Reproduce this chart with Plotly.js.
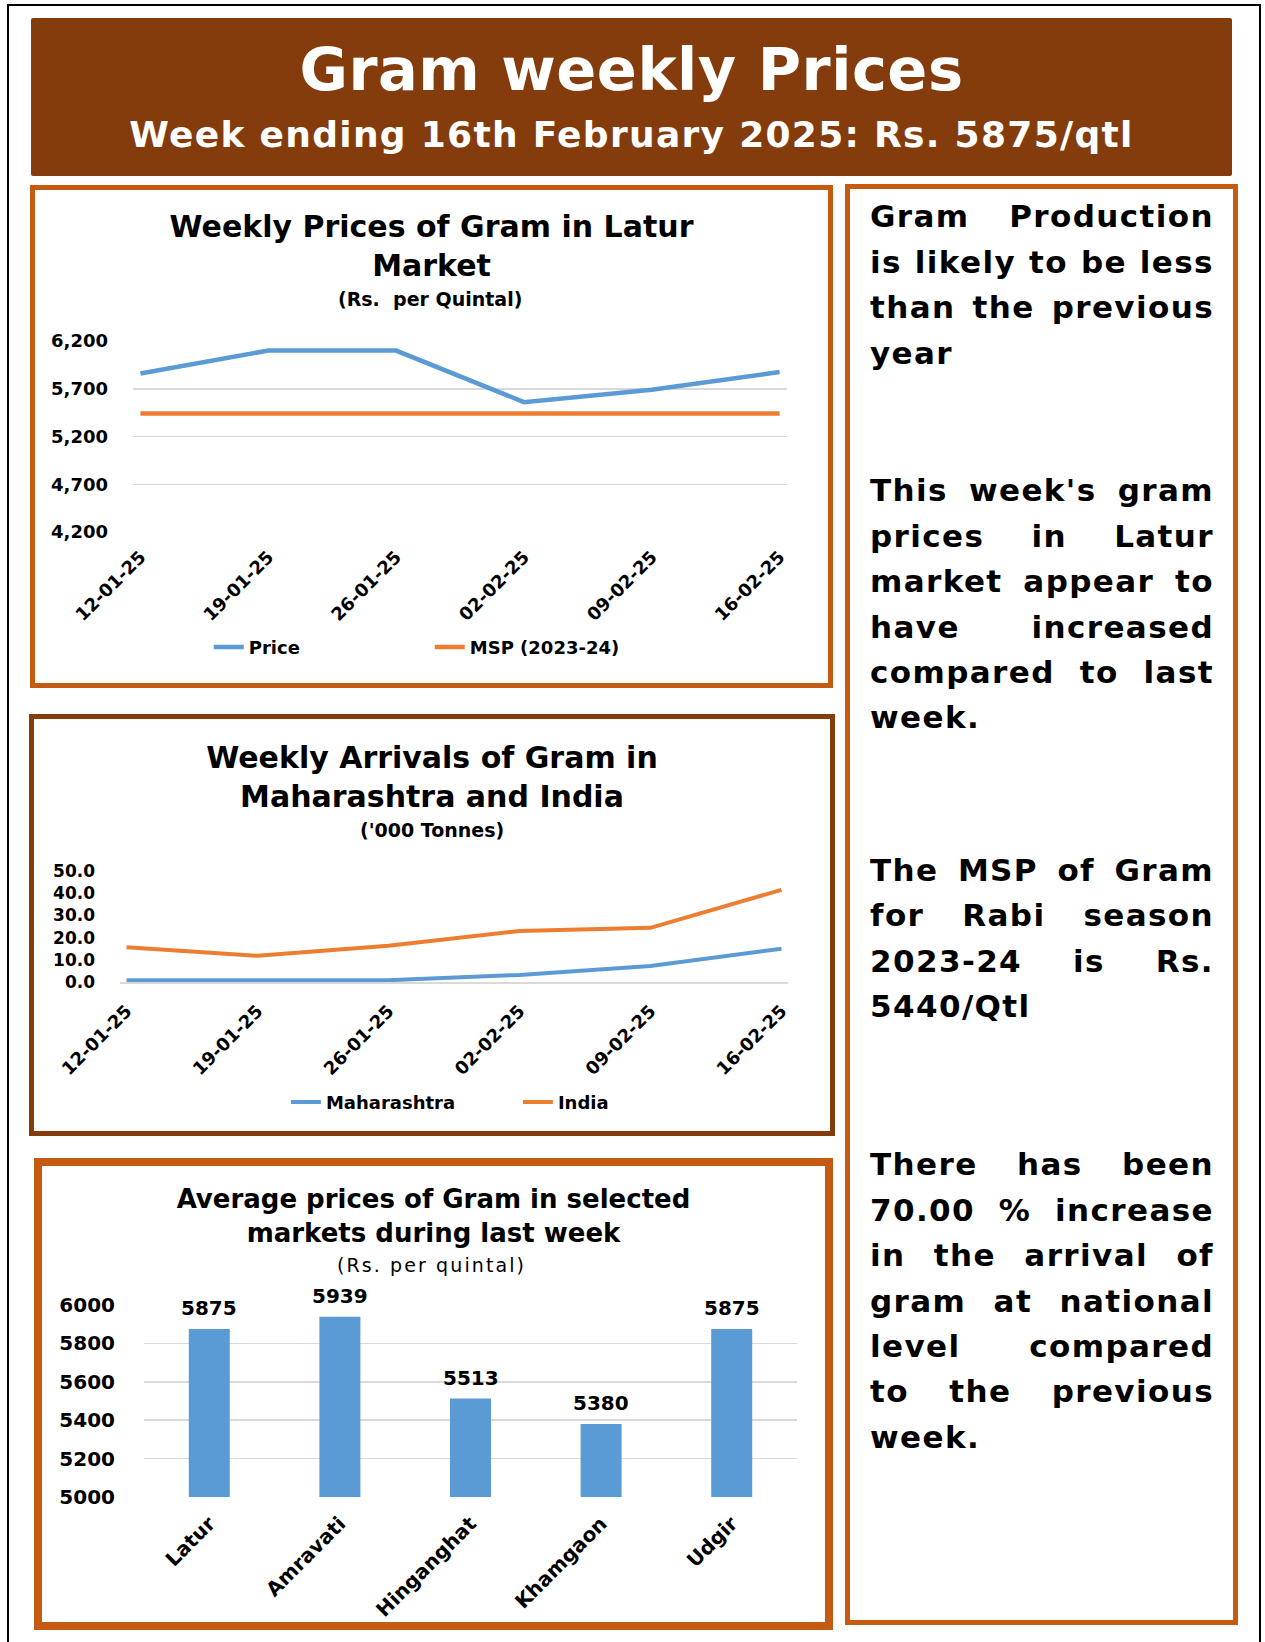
<!DOCTYPE html>
<html>
<head>
<meta charset="utf-8">
<script src="https://cdn.plot.ly/plotly-3.0.1.min.js"></script>
<style>
html,body{margin:0;padding:0;background:#ffffff;}
body{width:1265px;height:1642px;position:relative;overflow:hidden;font-family:"DejaVu Sans",sans-serif;}
.abs{position:absolute;box-sizing:border-box;}
.htxt{color:#ffffff;font-weight:bold;text-align:center;white-space:nowrap;}
.para{position:absolute;left:870px;width:344px;font-size:31px;line-height:45.4px;font-weight:bold;letter-spacing:1.4px;color:#000;}
.ln{display:flex;justify-content:space-between;white-space:nowrap;}
.ln.last{justify-content:flex-start;}
</style>
</head>
<body>
<div class="abs" style="left:7px;top:4px;width:1254px;height:1660px;border:2px solid #000;"></div>
<div class="abs" style="left:31px;top:18px;width:1201px;height:158px;background:#843C0C;border-radius:2px;"></div>
<div class="abs htxt" id="hTitle" style="left:31px;width:1201px;top:30px;height:80px;line-height:80px;font-size:59px;letter-spacing:0.5px;"></div>
<div class="abs htxt" id="hSub" style="left:31px;width:1201px;top:110px;height:50px;line-height:50px;font-size:36px;letter-spacing:1.3px;"></div>

<div class="abs" style="left:30px;top:185px;width:803px;height:503px;border:5px solid #C55A11;"></div>
<div class="abs" style="left:29px;top:714px;width:806px;height:422px;border:5px solid #843C0C;"></div>
<div class="abs" style="left:34px;top:1158px;width:799px;height:472px;border:8px solid #C55A11;"></div>
<div class="abs" style="left:845px;top:184px;width:393px;height:1441px;border:5px solid #C55A11;"></div>

<div class="abs" id="chart1" style="left:30px;top:185px;width:803px;height:503px;"></div>
<div class="abs" id="chart2" style="left:29px;top:714px;width:806px;height:422px;"></div>
<div class="abs" id="chart3" style="left:34px;top:1158px;width:799px;height:472px;"></div>

<div id="side"></div>

<script>
// ---------------- data ----------------
const headerTitle = "Gram weekly Prices";
const headerSubtitle = "Week ending 16th February 2025: Rs. 5875/qtl";

const weeks = ["12-01-25", "19-01-25", "26-01-25", "02-02-25", "09-02-25", "16-02-25"];
const laturPrice = [5860, 6100, 6100, 5560, 5690, 5875];
const mspPrice = [5440, 5440, 5440, 5440, 5440, 5440];

const maharashtraArrivals = [0.8, 0.8, 0.8, 3.2, 7.2, 15.0];
const indiaArrivals = [15.7, 11.8, 16.3, 23.0, 24.4, 41.5];

const markets = ["Latur", "Amravati", "Hinganghat", "Khamgaon", "Udgir"];
const marketPrices = [5875, 5939, 5513, 5380, 5875];

const sideParagraphs = [
  ["Gram Production", "is likely to be less", "than the previous", "year"],
  ["This week's gram", "prices in Latur", "market appear to", "have increased", "compared to last", "week."],
  ["The MSP of Gram", "for Rabi season", "2023-24 is Rs.", "5440/Qtl"],
  ["There has been", "70.00 % increase", "in the arrival of", "gram at national", "level compared", "to the previous", "week."]
];
const sideTops = [194.3, 468.3, 848, 1142.3];

// ---------------- header & side text ----------------
document.getElementById("hTitle").textContent = headerTitle;
document.getElementById("hSub").textContent = headerSubtitle;
const side = document.getElementById("side");
sideParagraphs.forEach((lines, pi) => {
  const p = document.createElement("div");
  p.className = "para";
  p.style.top = sideTops[pi] + "px";
  lines.forEach((line, li) => {
    const d = document.createElement("div");
    const last = li === lines.length - 1;
    d.className = "ln" + (last ? " last" : "");
    if (last) {
      d.textContent = line;
    } else {
      line.split(" ").forEach(w => {
        const s = document.createElement("span");
        s.textContent = w;
        d.appendChild(s);
      });
    }
    p.appendChild(d);
  });
  side.appendChild(p);
});

// ---------------- helpers ----------------
const FONT = "DejaVu Sans";
function geom(box, plot) {
  return {
    margin: {l: plot.l - box.x, r: box.x + box.w - plot.r, t: plot.t - box.y, b: box.y + box.h - plot.b, pad: 0},
    px: X => (X - plot.l) / (plot.r - plot.l),
    py: Y => (plot.b - Y) / (plot.b - plot.t),
    cy: Y => (box.y + box.h - Y) / box.h
  };
}
const cfg = {displayModeBar: false, staticPlot: true};
const bold = (size) => ({family: FONT, size: size, color: "#000000", weight: "bold"});

// ---------------- chart 1 ----------------
(function () {
  const box = {x: 30, y: 185, w: 803, h: 503};
  const g = geom(box, {l: 133.3, r: 786.7, t: 340.7, b: 532.3});
  const data = [
    {x: weeks, y: laturPrice, name: "Price", type: "scatter", mode: "lines",
     line: {color: "#5B9BD5", width: 4.5}},
    {x: weeks, y: mspPrice, name: "MSP (2023-24)", type: "scatter", mode: "lines",
     line: {color: "#ED7D31", width: 4.5}}
  ];
  const layout = {
    width: box.w, height: box.h, margin: g.margin,
    paper_bgcolor: "rgba(0,0,0,0)", plot_bgcolor: "rgba(0,0,0,0)",
    font: {family: FONT, color: "#000000"},
    title: {text: "Weekly Prices of Gram in Latur<br>Market", font: bold(30),
            x: 0.5, xref: "container", xanchor: "center",
            y: g.cy(236.7), yref: "container", yanchor: "top"},
    xaxis: {type: "category", range: [-0.058, 5.058], showgrid: false, zeroline: false, showline: false,
            tickangle: -45, tickfont: bold(18), ticklabelstandoff: 10, ticks: ""},
    yaxis: {range: [4200, 6200], tick0: 4200, dtick: 500, tickformat: ",d", showgrid: true,
            gridcolor: "#D9D9D9", gridwidth: 1.5, zeroline: false, showline: false,
            tickfont: bold(18), ticklabelstandoff: 24, ticks: ""},
    showlegend: true,
    legend: {orientation: "h", x: g.px(209), xanchor: "left", y: g.py(648), yanchor: "middle",
             font: bold(18), entrywidth: 176, entrywidthmode: "pixels", bgcolor: "rgba(0,0,0,0)",
             borderwidth: 0},
    annotations: [{text: "(Rs.&nbsp; per Quintal)", xref: "paper", yref: "paper",
                   x: g.px(430), y: g.py(299), xanchor: "center", yanchor: "middle",
                   showarrow: false, font: bold(19)}]
  };
  Plotly.newPlot("chart1", data, layout, cfg);
})();

// ---------------- chart 2 ----------------
(function () {
  const box = {x: 29, y: 714, w: 806, h: 422};
  const g = geom(box, {l: 120, r: 788.3, t: 870.7, b: 981.7});
  const data = [
    {x: weeks, y: maharashtraArrivals, name: "Maharashtra", type: "scatter", mode: "lines",
     line: {color: "#5B9BD5", width: 4}},
    {x: weeks, y: indiaArrivals, name: "India", type: "scatter", mode: "lines",
     line: {color: "#ED7D31", width: 4}}
  ];
  const layout = {
    width: box.w, height: box.h, margin: g.margin,
    paper_bgcolor: "rgba(0,0,0,0)", plot_bgcolor: "rgba(0,0,0,0)",
    font: {family: FONT, color: "#000000"},
    title: {text: "Weekly Arrivals of Gram in<br>Maharashtra and India", font: bold(30),
            x: 0.5, xref: "container", xanchor: "center",
            y: g.cy(767.7), yref: "container", yanchor: "top"},
    xaxis: {type: "category", range: [-0.05, 5.05], showgrid: false, zeroline: false,
            showline: true, linecolor: "#D9D9D9", linewidth: 1.5,
            tickangle: -45, tickfont: bold(18), ticklabelstandoff: 10, ticks: ""},
    yaxis: {range: [0, 50], tick0: 0, dtick: 10, tickformat: ".1f", showgrid: false,
            zeroline: false, showline: false, tickfont: bold(17), ticklabelstandoff: 24, ticks: ""},
    showlegend: true,
    legend: {orientation: "h", x: g.px(286), xanchor: "left", y: g.py(1102), yanchor: "middle",
             font: bold(18), entrywidth: 187, entrywidthmode: "pixels", bgcolor: "rgba(0,0,0,0)",
             borderwidth: 0},
    annotations: [{text: "('000 Tonnes)", xref: "paper", yref: "paper",
                   x: g.px(432), y: g.py(829.2), xanchor: "center", yanchor: "middle",
                   showarrow: false, font: bold(19)}]
  };
  Plotly.newPlot("chart2", data, layout, cfg);
})();

// ---------------- chart 3 ----------------
(function () {
  const box = {x: 34, y: 1158, w: 799, h: 472};
  const g = geom(box, {l: 144.3, r: 797.3, t: 1304.7, b: 1497.3});
  const data = [
    {x: markets, y: marketPrices, type: "bar", name: "Average price",
     marker: {color: "#5B9BD5"}, width: 0.314, showlegend: false}
  ];
  const labels = markets.map((m, i) => ({
    x: m, y: marketPrices[i], xref: "x", yref: "y", text: String(marketPrices[i]),
    showarrow: false, yanchor: "bottom", yshift: 7, font: bold(20)
  }));
  labels.push({text: '<span style="letter-spacing:2.1px">(Rs. per quintal)</span>',
               xref: "paper", yref: "paper", x: g.px(432), y: g.py(1265),
               xanchor: "center", yanchor: "middle", showarrow: false,
               font: {family: FONT, size: 19, color: "#000000"}});
  const layout = {
    width: box.w, height: box.h, margin: g.margin,
    paper_bgcolor: "rgba(0,0,0,0)", plot_bgcolor: "rgba(0,0,0,0)",
    font: {family: FONT, color: "#000000"},
    title: {text: "Average prices of Gram in selected<br>markets during last week", font: bold(26),
            x: 0.5, xref: "container", xanchor: "center",
            y: g.cy(1208.2), yref: "container", yanchor: "top"},
    xaxis: {type: "category", showgrid: false, zeroline: false, showline: false,
            tickangle: -45, tickfont: bold(20), ticklabelstandoff: 10, ticks: ""},
    yaxis: {range: [5000, 6000], tick0: 5000, dtick: 200, tickformat: "d", showgrid: true,
            gridcolor: "#D9D9D9", gridwidth: 1.5, zeroline: false, showline: false,
            tickfont: bold(20), ticklabelstandoff: 28, ticks: ""},
    showlegend: false,
    annotations: labels
  };
  Plotly.newPlot("chart3", data, layout, cfg);
})();
</script>
</body>
</html>
